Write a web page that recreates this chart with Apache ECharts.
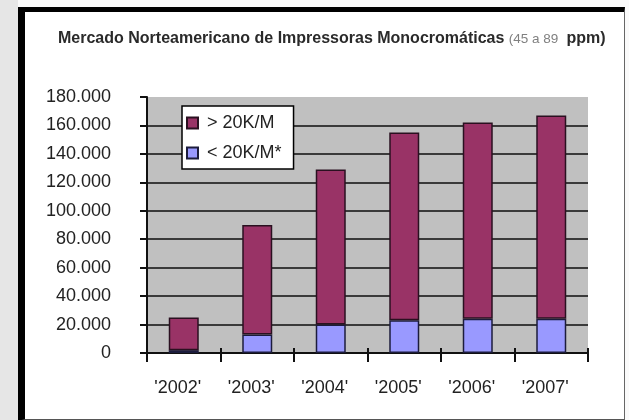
<!DOCTYPE html>
<html>
<head>
<meta charset="utf-8">
<script src="https://cdn.jsdelivr.net/npm/echarts@6/dist/echarts.min.js"></script>
<style>
  html, body { margin: 0; padding: 0; background: #fafafa; }
  .strip { position: absolute; left: 0; top: 0; width: 18px; height: 420px; background: #e6e6e6; }
  .frame {
    position: absolute; left: 18px; top: 7px; width: 599px; height: 407px;
    background: #fff;
    border-left: 7px solid #000; border-top: 5px solid #000;
    border-right: 1px solid #666; border-bottom: 2px solid #555;
  }
  #chart { position: absolute; left: 0; top: 0; width: 629px; height: 420px; }
</style>
</head>
<body>
<div class="strip"></div>
<div class="frame"></div>
<div id="chart"></div>
<script>
const categories = ["'2002'", "'2003'", "'2004'", "'2005'", "'2006'", "'2007'"]
const above20k = [23000, 77000, 109000, 132000, 138000, 143000]
const below20k = [2000, 13000, 20000, 23000, 24000, 24000]
const seriesNames = ['> 20K/M', '< 20K/M*']

const FONT = "'Liberation Sans', Arial, sans-serif"

function fmt(v) {
  return String(v).replace(/\B(?=(\d{3})+(?!\d))/g, '.')
}

const chart = echarts.init(document.getElementById('chart'), null, { renderer: 'canvas' })

chart.setOption({
  backgroundColor: 'transparent',
  animation: false,
  title: {
    left: 58,
    top: 31,
    padding: 0,
    text: '{a|Mercado Norteamericano de Impressoras Monocromáticas }{b|(45 a 89 }{c| ppm)}',
    textStyle: {
      rich: {
        a: { fontFamily: FONT, fontSize: 16, fontWeight: 'bold', color: '#2a2a2a' },
        b: { fontFamily: FONT, fontSize: 13.5, fontWeight: 'normal', color: '#808080' },
        c: { fontFamily: FONT, fontSize: 16, fontWeight: 'bold', color: '#2a2a2a' },
      },
    },
  },
  legend: {
    orient: 'vertical',
    left: 182,
    top: 106,
    padding: [8, 12, 7, 4],
    itemWidth: 11,
    itemHeight: 11,
    itemGap: 12,
    backgroundColor: '#fff',
    borderColor: '#000',
    borderWidth: 1.5,
    borderRadius: 0,
    data: seriesNames.map((n) => ({ name: n, icon: 'rect' })),
    textStyle: { fontFamily: FONT, fontSize: 18, color: '#222', padding: [0, 0, 0, 4] },
  },
  grid: {
    left: 147, top: 97, width: 441, height: 256,
    show: true, backgroundColor: '#c0c0c0', borderWidth: 0,
  },
  xAxis: [
    {
      type: 'category',
      data: categories,
      axisLine: { lineStyle: { color: '#111', width: 2 } },
      axisTick: { show: true, length: 9, lineStyle: { color: '#111', width: 2 } },
      axisLabel: {
        margin: 26, fontFamily: FONT, fontSize: 18, color: '#222',
        padding: [0, 12, 0, 0],
      },
    },
    {
      type: 'category',
      data: categories,
      position: 'bottom',
      axisLine: { show: false },
      axisTick: { show: true, inside: true, length: 5, lineStyle: { color: '#111', width: 2 } },
      axisLabel: { show: false },
    },
  ],
  yAxis: {
    type: 'value',
    min: 0,
    max: 180000,
    interval: 20000,
    axisLine: { show: true, lineStyle: { color: '#111', width: 2 } },
    axisTick: { show: true, length: 7, lineStyle: { color: '#111', width: 2 } },
    axisLabel: {
      margin: 36, fontFamily: FONT, fontSize: 18, color: '#222',
      formatter: (v) => fmt(v),
    },
    splitLine: {
      show: true, showMinLine: false, showMaxLine: false,
      lineStyle: { color: '#3a3a3a', width: 2 },
    },
  },
  series: [
    {
      name: seriesNames[1],
      type: 'bar',
      stack: 'total',
      barWidth: 30,
      data: below20k,
      itemStyle: { color: '#9999ff', borderColor: '#1c1c3c', borderWidth: 1.5 },
    },
    {
      name: seriesNames[0],
      type: 'bar',
      stack: 'total',
      barWidth: 30,
      data: above20k,
      itemStyle: { color: '#993366', borderColor: '#2a1020', borderWidth: 1.5 },
    },
  ],
})
</script>
</body>
</html>
